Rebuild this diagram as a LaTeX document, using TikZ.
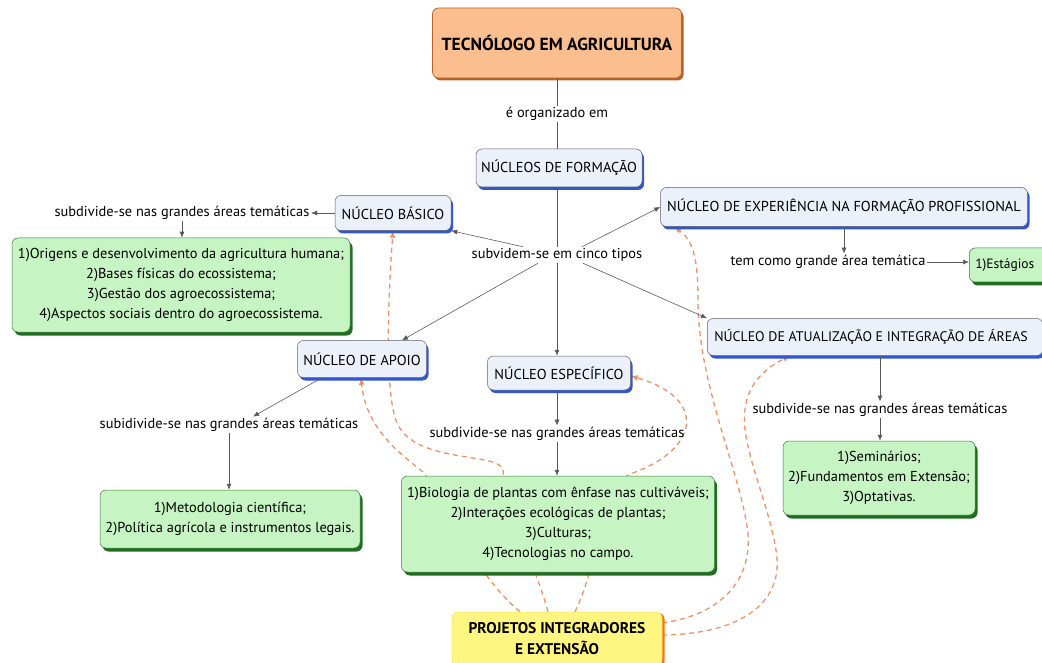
\documentclass[tikz,border=0pt]{standalone}
\usepackage{fontspec}
\setmainfont{PT Sans}
\usetikzlibrary{arrows.meta,shadows,backgrounds}
\definecolor{verdeF}{RGB}{198,244,194}
\definecolor{verdeB}{RGB}{60,120,60}
\definecolor{verdeS}{RGB}{30,110,30}
\definecolor{azulF}{RGB}{236,241,249}
\definecolor{azulB}{RGB}{90,95,110}
\definecolor{azulS}{RGB}{50,85,210}
\definecolor{laranjaF}{RGB}{251,190,142}
\definecolor{laranjaB}{RGB}{185,95,40}
\definecolor{amareloF}{RGB}{255,246,130}
\definecolor{tracejado}{RGB}{240,145,100}
\begin{document}
\begin{tikzpicture}[x=1pt, y=-1pt,
  caixa/.style={rounded corners=6pt, align=center, inner sep=3pt, font=\fontsize{14.4}{20}\selectfont},
  azul/.style={caixa, fill=azulF, draw=azulB, line width=0.5pt,
    drop shadow={shadow xshift=2pt, shadow yshift=-3pt, fill=azulS, opacity=1}},
  verde/.style={caixa, fill=verdeF, draw=verdeB, line width=0.5pt,
    drop shadow={shadow xshift=2.5pt, shadow yshift=-3.5pt, fill=verdeS, opacity=1}},
  laranja/.style={caixa, fill=laranjaF, draw=laranjaB, line width=0.7pt, font=\bfseries\fontsize{17.5}{20}\selectfont,
    drop shadow={shadow xshift=2pt, shadow yshift=-2.5pt, fill=laranjaB, opacity=1}},
  amarelo/.style={caixa, fill=amareloF, draw=amareloF!80!orange, line width=0.5pt, font=\bfseries\fontsize{15.5}{21}\selectfont,
    drop shadow={shadow xshift=2.5pt, shadow yshift=-1pt, fill=orange!90!red, opacity=1}},
  rotulo/.style={inner sep=1.5pt, font=\fontsize{14.4}{16}\selectfont},
  liga/.style={black!65, line width=0.6pt},
  seta/.style={liga, -{Latex[length=6pt,width=5pt]}},
  projlink/.style={tracejado, line width=1.3pt, dash pattern=on 5pt off 4pt, -{Latex[length=7pt,width=6pt]}}
]
\useasboundingbox (0,0) rectangle (1042,663);

% conceitos
\node[laranja, minimum width=249pt, minimum height=70pt] (tecnologo) at (557,43) {TECNÓLOGO EM AGRICULTURA};
\node[rotulo] (organizado) at (557,114) {é organizado em};
\node[azul, minimum width=166pt, minimum height=38pt] (nucleos) at (559,168) {NÚCLEOS DE FORMAÇÃO};
\node[rotulo] (cinco) at (557,255) {subvidem-se em cinco tipos};

\node[azul, minimum width=116pt, minimum height=35pt] (basico) at (393,213) {NÚCLEO BÁSICO};
\node[rotulo] (subbasico) at (182,213) {subdivide-se nas grandes áreas temáticas};
\node[verde, minimum width=338pt, minimum height=94pt] (areasbasico) at (181,285)
  {1)Origens e desenvolvimento da agricultura humana;\\2)Bases físicas do ecossistema;\\3)Gestão dos agroecossistema;\\4)Aspectos sociais dentro do agroecossistema.};

\node[azul, minimum width=367pt, minimum height=39pt] (experiencia) at (844,207) {NÚCLEO DE EXPERIÊNCIA NA FORMAÇÃO PROFISSIONAL};
\node[rotulo] (temcomo) at (828,262) {tem como grande área temática};
\node[verde, inner xsep=6pt, minimum height=34pt, anchor=west, font=\fontsize{13.5}{16}\selectfont] (estagios) at (969,265) {1)Estágios\hspace*{8pt}};

\node[azul, minimum width=129pt, minimum height=37pt] (apoio) at (362,359) {NÚCLEO DE APOIO};
\node[rotulo] (subapoio) at (229,425) {subidivide-se nas grandes áreas temáticas};
\node[verde, minimum width=260pt, minimum height=58pt] (areasapoio) at (230,519)
  {1)Metodologia científica;\\2)Política agrícola e instrumentos legais.};

\node[azul, minimum width=143pt, minimum height=34pt] (especifico) at (559,373) {NÚCLEO ESPECÍFICO};
\node[rotulo] (subespecifico) at (557,434) {subdivide-se nas grandes áreas temáticas};
\node[verde, minimum width=313pt, minimum height=96pt] (areasespecifico) at (558,524)
  {1)Biologia de plantas com ênfase nas cultiváveis;\\2)Interações ecológicas de plantas;\\3)Culturas;\\4)Tecnologias no campo.};

\node[azul, inner xsep=7pt, minimum height=37pt, anchor=west, font=\fontsize{13.9}{16}\selectfont] (atualizacao) at (707,337) {NÚCLEO DE ATUALIZAÇÃO E INTEGRAÇÃO DE ÁREAS\hspace*{8pt}};
\node[rotulo] (subatualizacao) at (880,410) {subdivide-se nas grandes áreas temáticas};
\node[verde, minimum width=192pt, minimum height=74pt] (areasatualizacao) at (879,478)
  {1)Seminários;\\2)Fundamentos em Extensão;\\3)Optativas.};

\node[amarelo, minimum width=210pt, minimum height=54pt] (projetos) at (557,639) {PROJETOS INTEGRADORES\\E EXTENSÃO};

% ligacoes
\draw[liga] (tecnologo) -- (organizado);
\draw[liga] (organizado) -- (organizado |- nucleos.north);
\draw[liga] (nucleos.south -| cinco.north) -- (cinco);
\draw[seta] ([xshift=-34pt]cinco.north) -- (basico.south east);
\draw[seta] ([xshift=25pt]cinco.north) -- (experiencia.west);
\draw[seta] ([xshift=-19pt]cinco.south) -- ([xshift=40pt]apoio.north);
\draw[seta] (cinco) -- (cinco |- especifico.north);
\draw[seta] ([xshift=26pt]cinco.south) -- (atualizacao.north west);
\draw[seta] (basico) -- (subbasico);
\draw[seta] (subbasico.south) -- (subbasico.south |- areasbasico.north);
\draw[seta] (experiencia.south) -- (experiencia.south |- temcomo.north);
\draw[seta] (temcomo.east) -- (temcomo.east -| estagios.west);
\draw[seta] ([xshift=-40pt]apoio.south) -- ([xshift=24pt]subapoio.north);
\draw[seta] (subapoio.south) -- (subapoio.south |- areasapoio.north);
\draw[seta] (especifico.south -| subespecifico.north) -- (subespecifico);
\draw[seta] (subespecifico.south) -- (subespecifico.south |- areasespecifico.north);
\draw[seta] (atualizacao.south -| subatualizacao.north) -- (subatualizacao.north);
\draw[seta] (subatualizacao.south) -- (subatualizacao.south |- areasatualizacao.north);

% projetos integradores
\begin{pgfonlayer}{background}
\draw[projlink] ([xshift=-37pt]projetos.north) .. controls (470,570) and (440,490) .. (423,472)
  .. controls (398,452) and (366,428) .. ([xshift=-1pt]apoio.south);
\draw[projlink] ([xshift=-9pt]projetos.north) .. controls (540,580) and (505,500) .. (503,470)
  .. controls (500,452) and (418,464) .. (398,425) .. controls (384,398) and (388,300) .. (basico.south);
\draw[projlink] ([xshift=18pt]projetos.north) .. controls (600,560) and (600,490) .. (630,474)
  .. controls (700,450) and (708,398) .. ([yshift=-3pt]especifico.east);
\draw[projlink] ([yshift=16pt]projetos.east) .. controls (720,615) and (758,580) .. (746,520)
  .. controls (735,460) and (698,380) .. (698,300) .. controls (698,255) and (692,240) .. ([xshift=14pt]experiencia.south west);
\draw[projlink] ([yshift=4pt]projetos.east) .. controls (745,634) and (785,600) .. (776,550)
  .. controls (768,500) and (740,445) .. (745,410) .. controls (748,380) and (770,366) .. ([xshift=83pt]atualizacao.south west);
\end{pgfonlayer}
\end{tikzpicture}
\end{document}
